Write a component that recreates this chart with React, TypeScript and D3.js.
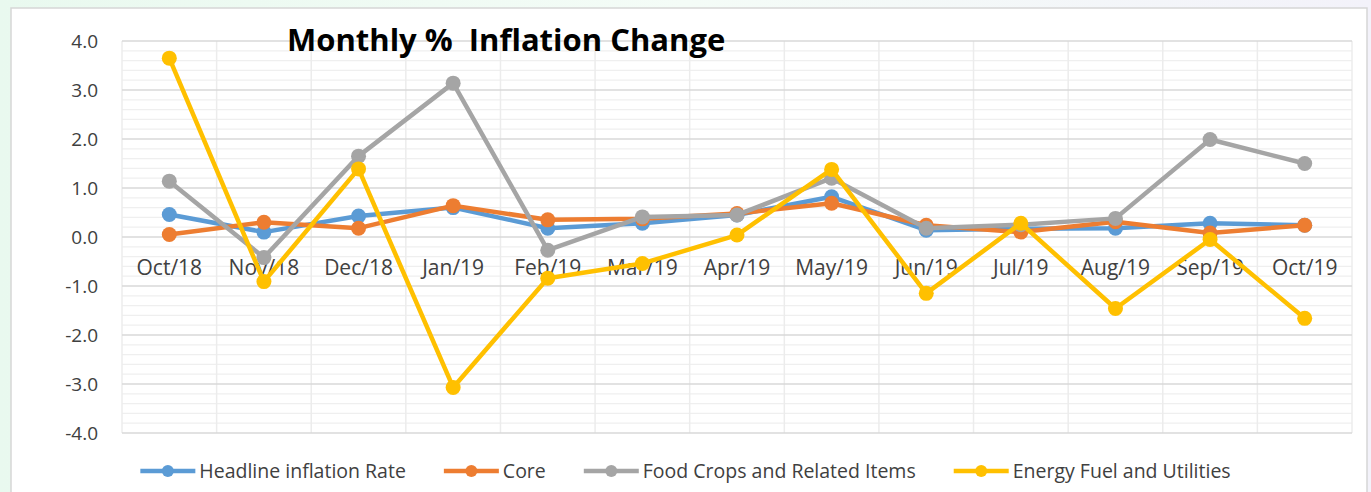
import React, { useEffect, useRef } from 'react';
import * as d3 from 'd3';

const categories = ['Oct/18', 'Nov/18', 'Dec/18', 'Jan/19', 'Feb/19', 'Mar/19', 'Apr/19', 'May/19', 'Jun/19', 'Jul/19', 'Aug/19', 'Sep/19', 'Oct/19'];
const headline = [0.46, 0.1, 0.43, 0.6, 0.18, 0.28, 0.45, 0.82, 0.14, 0.17, 0.18, 0.28, 0.24];
const core = [0.05, 0.3, 0.18, 0.64, 0.35, 0.37, 0.48, 0.69, 0.24, 0.1, 0.31, 0.08, 0.24];
const foodCrops = [1.14, -0.42, 1.65, 3.14, -0.27, 0.41, 0.45, 1.2, 0.18, 0.25, 0.38, 1.99, 1.5];
const energy = [3.65, -0.91, 1.39, -3.07, -0.84, -0.54, 0.04, 1.38, -1.15, 0.28, -1.46, -0.05, -1.66];
const yTicks = [-4, -3, -2, -1, 0, 1, 2, 3, 4];
const yTickLabels = ['-4.0', '-3.0', '-2.0', '-1.0', '0.0', '1.0', '2.0', '3.0', '4.0'];
const seriesNames = ['Headline inflation Rate', 'Core', 'Food Crops and Related Items', 'Energy Fuel and Utilities'];
const seriesColors = ['#5B9BD5', '#ED7D31', '#A5A5A5', '#FFC000'];
const title = 'Monthly %  Inflation Change';

const App = () => {
  const svgRef = useRef<SVGSVGElement>(null);

  useEffect(() => {
    const width = 1371;
    const height = 492;
    const plot = { left: 122, right: 1352, top: 41, bottom: 433 };
    const font = '"Open Sans", sans-serif';

    const svg = d3.select(svgRef.current);
    svg.selectAll('*').remove();
    svg.attr('width', width).attr('height', height);

    // page background + chart frame
    const grad = svg.append('defs').append('linearGradient')
      .attr('id', 'bg').attr('x1', 0).attr('x2', 1).attr('y1', 0).attr('y2', 0);
    grad.append('stop').attr('offset', '0%').attr('stop-color', '#e9f9ef');
    grad.append('stop').attr('offset', '50%').attr('stop-color', '#f4fcf7');
    grad.append('stop').attr('offset', '100%').attr('stop-color', '#f3f2fa');
    svg.append('rect').attr('width', width).attr('height', height).attr('fill', 'url(#bg)');
    svg.append('rect')
      .attr('x', 11).attr('y', 8).attr('width', 1356).attr('height', 500)
      .attr('fill', '#ffffff').attr('stroke', '#d6d6d6').attr('stroke-width', 1.5);

    const x = d3.scaleBand().domain(categories).range([plot.left, plot.right]);
    const y = d3.scaleLinear().domain([-4, 4]).range([plot.bottom, plot.top]);
    const cx = (c: string) => (x(c) as number) + x.bandwidth() / 2;

    // gridlines
    const minor = d3.range(-4, 4.001, 0.2).filter(v => Math.abs(v - Math.round(v)) > 0.01);
    svg.append('g').selectAll('line').data(minor).enter().append('line')
      .attr('x1', plot.left).attr('x2', plot.right)
      .attr('y1', d => y(d)).attr('y2', d => y(d))
      .attr('stroke', '#efefef').attr('stroke-width', 1.2);
    svg.append('g').selectAll('line').data(categories.concat(['end'])).enter().append('line')
      .attr('x1', (d, i) => plot.left + i * x.bandwidth())
      .attr('x2', (d, i) => plot.left + i * x.bandwidth())
      .attr('y1', plot.top).attr('y2', plot.bottom)
      .attr('stroke', '#ececec').attr('stroke-width', 1.5);
    svg.append('g').selectAll('line').data(yTicks).enter().append('line')
      .attr('x1', plot.left).attr('x2', plot.right)
      .attr('y1', d => y(d)).attr('y2', d => y(d))
      .attr('stroke', '#d9d9d9').attr('stroke-width', 1.5);

    // y labels
    svg.append('g').selectAll('text').data(yTicks).enter().append('text')
      .attr('x', 98).attr('y', d => y(d))
      .attr('dy', '0.35em')
      .attr('text-anchor', 'end')
      .attr('font-family', font).attr('font-size', 19)
      .attr('fill', '#404040')
      .text((d, i) => yTickLabels[i]);

    // category labels (next to the zero line)
    svg.append('g').selectAll('text').data(categories).enter().append('text')
      .attr('x', d => cx(d)).attr('y', y(0) + 38)
      .attr('text-anchor', 'middle')
      .attr('font-family', font).attr('font-size', 21)
      .attr('fill', '#404040')
      .text(d => d);

    // title
    svg.append('text')
      .attr('x', 287).attr('y', 51)
      .attr('font-family', font).attr('font-weight', 'bold').attr('font-size', 31)
      .attr('fill', '#000')
      .attr('xml:space', 'preserve')
      .style('white-space', 'pre')
      .text(title);

    // series
    const allSeries = [headline, core, foodCrops, energy];
    const line = d3.line<number>()
      .x((d, i) => cx(categories[i]))
      .y(d => y(d));

    allSeries.forEach((values, si) => {
      const g = svg.append('g');
      g.append('path')
        .datum(values)
        .attr('d', line)
        .attr('fill', 'none')
        .attr('stroke', seriesColors[si])
        .attr('stroke-width', 4.5)
        .attr('stroke-linejoin', 'round');
      g.selectAll('circle').data(values).enter().append('circle')
        .attr('cx', (d, i) => cx(categories[i]))
        .attr('cy', d => y(d))
        .attr('r', 7.5)
        .attr('fill', seriesColors[si]);
    });

    // legend
    const legend = svg.append('g');
    const legendY = 471;
    const items = seriesNames.map((name, i) => {
      const g = legend.append('g');
      g.append('line')
        .attr('x1', 0).attr('x2', 55).attr('y1', legendY).attr('y2', legendY)
        .attr('stroke', seriesColors[i]).attr('stroke-width', 4.5);
      g.append('circle').attr('cx', 27.5).attr('cy', legendY).attr('r', 6).attr('fill', seriesColors[i]);
      const t = g.append('text')
        .attr('x', 59).attr('y', legendY).attr('dy', '0.35em')
        .attr('font-family', font).attr('font-size', 19.5)
        .attr('fill', '#404040')
        .text(name);
      const w = 59 + (t.node() as SVGTextElement).getComputedTextLength();
      return { g, w };
    });
    const gap = 38;
    const total = d3.sum(items, d => d.w) + gap * (items.length - 1);
    let pos = width / 2 - total / 2;
    items.forEach(it => {
      it.g.attr('transform', `translate(${pos},0)`);
      pos += it.w + gap;
    });
  }, []);

  return (
    <div style={{ position: 'absolute', left: 0, top: 0 }}>
      <svg ref={svgRef} style={{ display: 'block' }}></svg>
    </div>
  );
};

export default App;
